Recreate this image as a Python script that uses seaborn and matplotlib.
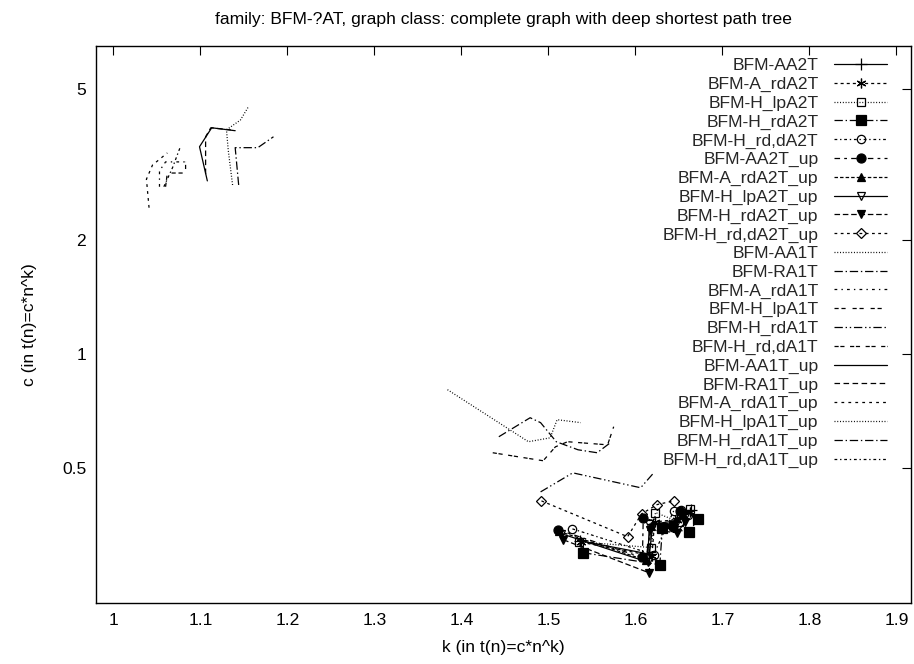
import matplotlib
matplotlib.use("Agg")
import matplotlib.pyplot as plt
import seaborn as sns
from matplotlib.ticker import FixedLocator, FixedFormatter, NullLocator

sns.set_theme(style="white")
plt.rcParams['font.family'] = ['Liberation Sans', 'DejaVu Sans']
plt.rcParams['lines.scale_dashes'] = False

title = "family: BFM-?AT, graph class: complete graph with deep shortest path tree"
xlabel = "k (in t(n)=c*n^k)"
ylabel = "c (in t(n)=c*n^k)"
xticks = [1.0, 1.1, 1.2, 1.3, 1.4, 1.5, 1.6, 1.7, 1.8, 1.9]
xtick_labels = ["1", "1.1", "1.2", "1.3", "1.4", "1.5", "1.6", "1.7", "1.8", "1.9"]
yticks = [0.5, 1, 2, 5]
ytick_labels = ["0.5", "1", "2", "5"]

# ---- A2T series (with point markers) ----
k_AA2T = [1.536, 1.616, 1.620, 1.645, 1.664]
c_AA2T = [0.321, 0.296, 0.355, 0.362, 0.386]
k_A_rdA2T = [1.538, 1.619, 1.622, 1.648, 1.663]
c_A_rdA2T = [0.318, 0.293, 0.360, 0.365, 0.383]
k_H_lpA2T = [1.5356, 1.618, 1.623, 1.650, 1.663]
c_H_lpA2T = [0.319, 0.308, 0.381, 0.360, 0.390]
k_H_rdA2T = [1.540, 1.628, 1.631, 1.662, 1.672]
c_H_rdA2T = [0.2985, 0.2775, 0.347, 0.339, 0.367]
k_H_rd_dA2T = [1.5276, 1.621, 1.644, 1.652, 1.660]
c_H_rd_dA2T = [0.345, 0.295, 0.385, 0.388, 0.375]
k_AA2T_up = [1.5115, 1.608, 1.609, 1.643, 1.651]
c_AA2T_up = [0.343, 0.290, 0.369, 0.350, 0.385]
k_A_rdA2T_up = [1.512, 1.612, 1.618, 1.640, 1.655]
c_A_rdA2T_up = [0.340, 0.285, 0.352, 0.356, 0.378]
k_H_lpA2T_up = [1.515, 1.614, 1.616, 1.645, 1.658]
c_H_lpA2T_up = [0.335, 0.282, 0.355, 0.352, 0.376]
k_H_rdA2T_up = [1.517, 1.616, 1.617, 1.648, 1.657]
c_H_rdA2T_up = [0.323, 0.264, 0.343, 0.337, 0.360]
k_H_rd_dA2T_up = [1.492, 1.591, 1.607, 1.625, 1.644]
c_H_rd_dA2T_up = [0.409, 0.329, 0.378, 0.400, 0.409]

# ---- A1T series (lines only) ----
k_AA1T = [1.384, 1.477, 1.502, 1.510, 1.537]
c_AA1T = [0.804, 0.586, 0.600, 0.670, 0.658]
k_RA1T = [1.443, 1.479, 1.491, 1.509, 1.534, 1.556, 1.571]
c_RA1T = [0.604, 0.678, 0.658, 0.586, 0.558, 0.548, 0.582]
k_A_rdA1T = [1.053, 1.053, 1.060, 1.083]
c_A_rdA1T = [2.76, 3.04, 3.21, 3.21]
k_H_lpA1T = [1.060, 1.062, 1.083, 1.083]
c_H_lpA1T = [2.76, 3.00, 3.00, 3.21]
k_H_rdA1T = [1.491, 1.528, 1.606, 1.621]
c_H_rdA1T = [0.432, 0.485, 0.443, 0.485]
k_H_rd_dA1T = [1.436, 1.494, 1.508, 1.522, 1.568, 1.575]
c_H_rd_dA1T = [0.548, 0.522, 0.568, 0.586, 0.575, 0.642]
k_AA1T_up = [1.108, 1.099, 1.113, 1.140]
c_AA1T_up = [2.86, 3.52, 3.95, 3.88]
k_RA1T_up = [1.106, 1.106, 1.112, 1.135]
c_RA1T_up = [2.98, 3.74, 3.95, 3.90]
k_A_rdA1T_up = [1.041, 1.038, 1.045, 1.062]
c_A_rdA1T_up = [2.43, 2.89, 3.15, 3.39]
k_H_lpA1T_up = [1.137, 1.132, 1.130, 1.146, 1.155]
c_H_lpA1T_up = [2.79, 3.45, 3.90, 4.14, 4.48]
k_H_rdA1T_up = [1.144, 1.140, 1.166, 1.184]
c_H_rdA1T_up = [2.79, 3.50, 3.50, 3.74]
k_H_rd_dA1T_up = [1.058, 1.068, 1.077]
c_H_rd_dA1T_up = [2.76, 3.10, 3.52]

ast = (6, 2, 0)
series = [
    ("BFM-AA2T", k_AA2T, c_AA2T, '-', '+', 'black', 8),
    ("BFM-A_rdA2T", k_A_rdA2T, c_A_rdA2T, (0, (2.2, 2.2)), ast, 'black', 7),
    ("BFM-H_lpA2T", k_H_lpA2T, c_H_lpA2T, (0, (0.7, 1.3)), 's', 'none', 6),
    ("BFM-H_rdA2T", k_H_rdA2T, c_H_rdA2T, (0, (6, 2, 1, 2)), 's', 'black', 6.5),
    ("BFM-H_rd,dA2T", k_H_rd_dA2T, c_H_rd_dA2T, (0, (2, 2, 1, 2)), 'o', 'none', 6),
    ("BFM-AA2T_up", k_AA2T_up, c_AA2T_up, (0, (4, 3, 2, 3)), 'o', 'black', 6.5),
    ("BFM-A_rdA2T_up", k_A_rdA2T_up, c_A_rdA2T_up, (0, (2.5, 1.5)), '^', 'black', 5.5),
    ("BFM-H_lpA2T_up", k_H_lpA2T_up, c_H_lpA2T_up, '-', 'v', 'none', 6),
    ("BFM-H_rdA2T_up", k_H_rdA2T_up, c_H_rdA2T_up, (0, (4, 2)), 'v', 'black', 6),
    ("BFM-H_rd,dA2T_up", k_H_rd_dA2T_up, c_H_rd_dA2T_up, (0, (2, 2.5)), 'D', 'none', 5),
    ("BFM-AA1T", k_AA1T, c_AA1T, (0, (0.7, 1.3)), None, 'black', 0),
    ("BFM-RA1T", k_RA1T, c_RA1T, (0, (6, 2, 1, 2)), None, 'black', 0),
    ("BFM-A_rdA1T", k_A_rdA1T, c_A_rdA1T, (0, (2, 3, 1, 3)), None, 'black', 0),
    ("BFM-H_lpA1T", k_H_lpA1T, c_H_lpA1T, (0, (3, 2, 3, 5)), None, 'black', 0),
    ("BFM-H_rdA1T", k_H_rdA1T, c_H_rdA1T, (0, (6, 2, 1, 2, 1, 2)), None, 'black', 0),
    ("BFM-H_rd,dA1T", k_H_rd_dA1T, c_H_rd_dA1T, (0, (3, 1.2, 3, 4)), None, 'black', 0),
    ("BFM-AA1T_up", k_AA1T_up, c_AA1T_up, '-', None, 'black', 0),
    ("BFM-RA1T_up", k_RA1T_up, c_RA1T_up, (0, (4, 2.5)), None, 'black', 0),
    ("BFM-A_rdA1T_up", k_A_rdA1T_up, c_A_rdA1T_up, (0, (2, 3)), None, 'black', 0),
    ("BFM-H_lpA1T_up", k_H_lpA1T_up, c_H_lpA1T_up, (0, (0.7, 1.3)), None, 'black', 0),
    ("BFM-H_rdA1T_up", k_H_rdA1T_up, c_H_rdA1T_up, (0, (6, 2, 1, 2)), None, 'black', 0),
    ("BFM-H_rd,dA1T_up", k_H_rd_dA1T_up, c_H_rd_dA1T_up, (0, (2, 2, 1, 2)), None, 'black', 0),
]

FS = 12.6
fig = plt.figure(figsize=(9.14, 6.64), dpi=100)
ax = fig.add_axes([0.105, 0.092, 0.892, 0.839])

for label, k, c, ls, mk, mfc, ms in series:
    kw = dict(x=k, y=c, ax=ax, sort=False, estimator=None, color='black',
              linewidth=0.9, linestyle=ls, label=label, legend=False)
    if mk is not None:
        kw.update(marker=mk, markersize=ms, markerfacecolor=mfc,
                  mec='black', mew=0.9)
    sns.lineplot(**kw)

ax.set_yscale('log')
ax.set_xlim(0.980, 1.917)
ax.set_ylim(0.220, 6.50)
ax.xaxis.set_major_locator(FixedLocator(xticks))
ax.xaxis.set_major_formatter(FixedFormatter(xtick_labels))
ax.yaxis.set_major_locator(FixedLocator(yticks))
ax.yaxis.set_major_formatter(FixedFormatter(ytick_labels))
ax.yaxis.set_minor_locator(NullLocator())
ax.xaxis.set_minor_locator(NullLocator())
ax.tick_params(direction='in', length=6.5, width=0.8, top=True, right=True,
               labelsize=FS, colors='black', pad=7)
for s in ax.spines.values():
    s.set_color('black')
    s.set_linewidth(1.0)

ax.set_xlabel(xlabel, fontsize=FS, color='black', labelpad=9)
ax.set_ylabel(ylabel, fontsize=FS, color='black', labelpad=18)
ax.set_title(title, fontsize=FS, color='black', pad=16)

ax.legend(loc='upper right', frameon=False, markerfirst=False, fontsize=FS,
          handlelength=3.0, handletextpad=0.9, labelspacing=0.195,
          borderaxespad=0.3, bbox_to_anchor=(0.985, 1.0))

fig.savefig("out.png", dpi=100)
